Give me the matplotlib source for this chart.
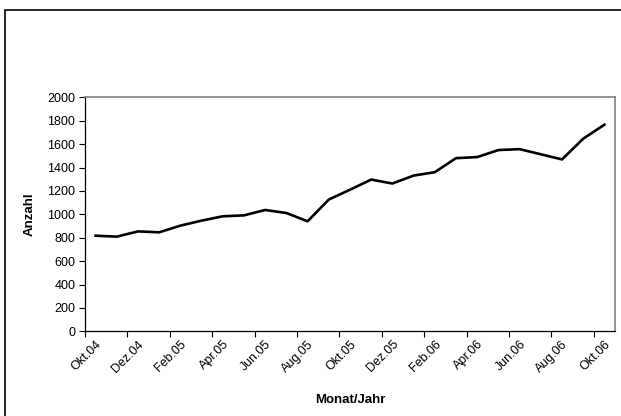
import matplotlib
matplotlib.use('Agg')
import matplotlib.pyplot as plt
from matplotlib.patches import Rectangle

plt.rcParams['font.family'] = ['Liberation Sans', 'DejaVu Sans']

# monthly counts Okt.04 .. Okt.06
months = ['Okt.04', 'Nov.04', 'Dez.04', 'Jan.05', 'Feb.05', 'Mrz.05', 'Apr.05',
          'Mai.05', 'Jun.05', 'Jul.05', 'Aug.05', 'Sep.05', 'Okt.05', 'Nov.05',
          'Dez.05', 'Jan.06', 'Feb.06', 'Mrz.06', 'Apr.06', 'Mai.06', 'Jun.06',
          'Jul.06', 'Aug.06', 'Sep.06', 'Okt.06']
anzahl = [817, 809, 854, 846, 903, 946, 983, 991, 1037, 1011, 940, 1126, 1210,
          1297, 1263, 1331, 1360, 1480, 1489, 1549, 1557, 1513, 1469, 1646, 1766]
yticks = [0, 200, 400, 600, 800, 1000, 1200, 1400, 1600, 1800, 2000]

W, H = 621, 416
fig = plt.figure(figsize=(W / 100, H / 100), dpi=100)
ax = fig.add_axes([85 / W, (H - 331.3) / H, 530 / W, 234 / H])

x = list(range(len(months)))
ax.plot(x, anzahl, color='black', linewidth=1.9)

ax.set_xlim(-0.5, len(months) - 0.5)
ax.set_ylim(0, 2000)
ax.set_yticks(yticks)
ax.set_yticklabels([str(v) for v in yticks], fontsize=9)

# ticks between categories, labels every second month
ax.set_xticks([i - 0.5 for i in range(0, len(months), 2)])
ax.set_xticklabels([])
ax.set_xticks(x[::2], minor=True)
ax.set_xticklabels(months[::2], minor=True, rotation=45, ha='right',
                   rotation_mode='anchor', fontsize=9)
ax.tick_params(axis='x', which='minor', length=0, pad=5)
ax.tick_params(axis='x', which='major', length=4, width=0.8, direction='out')
ax.tick_params(axis='y', length=4, width=0.8, direction='out', pad=3)

for side in ['top', 'right']:
    ax.spines[side].set_color('#808080')
    ax.spines[side].set_linewidth(1.2)
for side in ['left', 'bottom']:
    ax.spines[side].set_color('black')
    ax.spines[side].set_linewidth(0.9)

ax.set_xlabel('Monat/Jahr', fontsize=9.5, fontweight='bold', labelpad=14)
ax.set_ylabel('Anzahl', fontsize=9.5, fontweight='bold', labelpad=8)

# outer chart border (cut off at right and bottom)
fig.patches.append(Rectangle((5 / W, -0.1), 1.2, (H - 10) / H + 0.1,
                             transform=fig.transFigure, fill=False,
                             edgecolor='black', linewidth=1.2))

fig.savefig('out.png', dpi=100)
